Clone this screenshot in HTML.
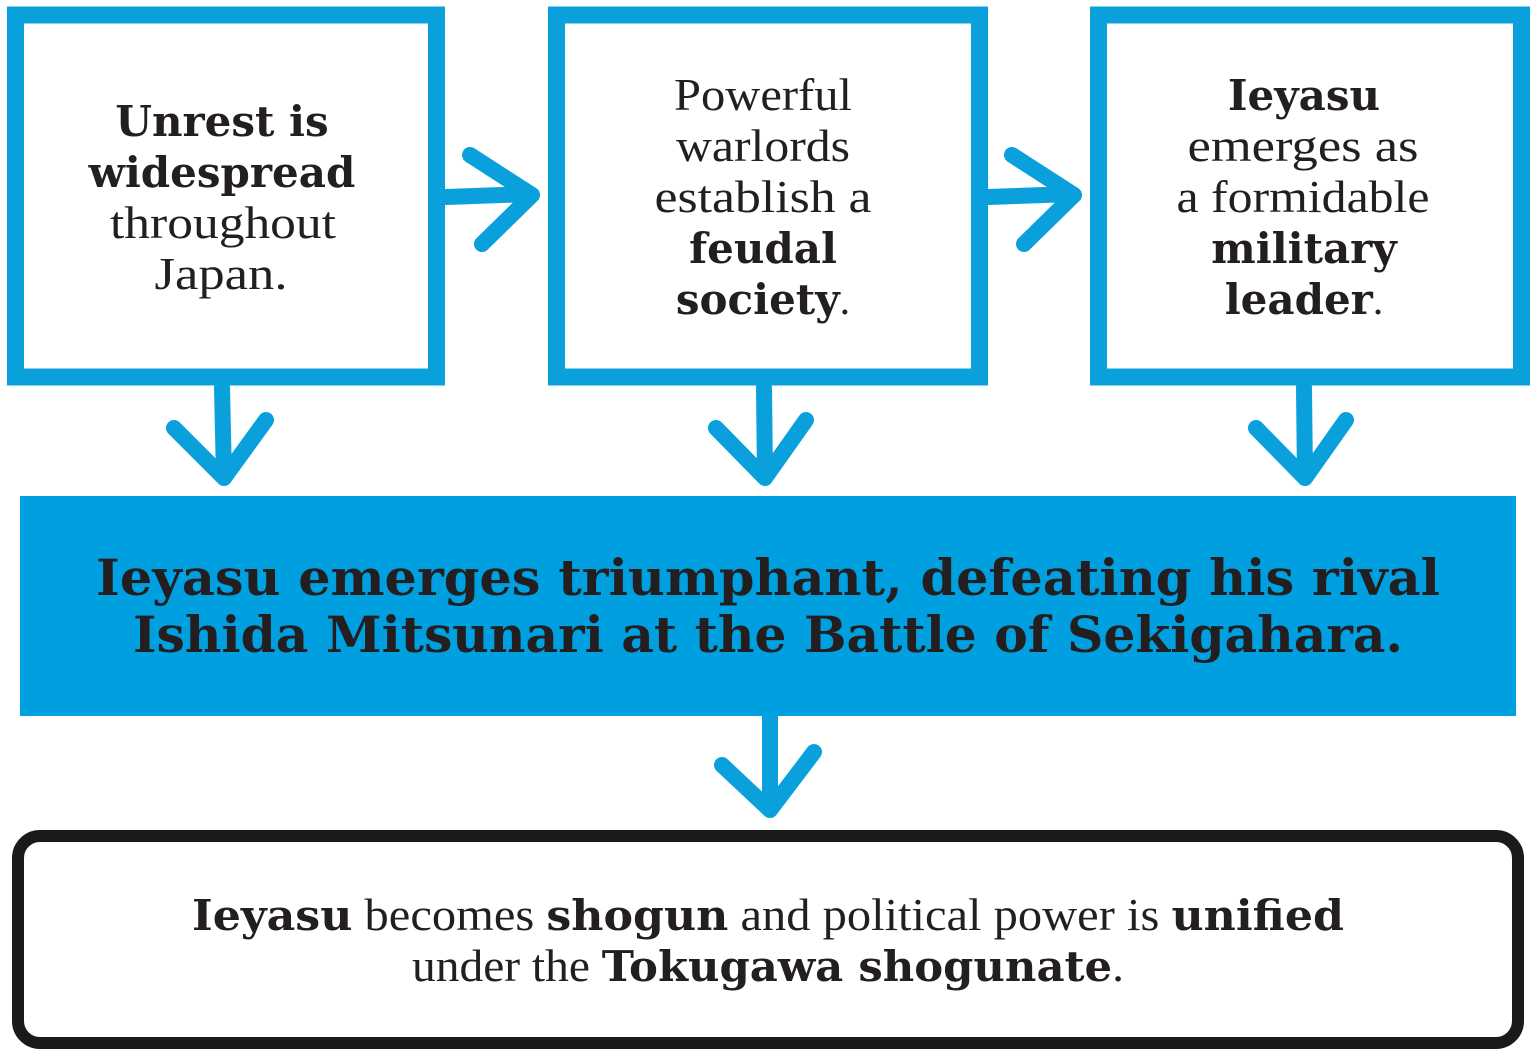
<!DOCTYPE html>
<html><head><meta charset="utf-8"><style>
html,body{margin:0;padding:0;background:#fff;}
svg{display:block;}
text{font-family:"DejaVu Serif","Liberation Serif",serif;}
.l{font-family:"Liberation Serif",serif;font-weight:normal;}
.b{font-family:"DejaVu Serif",serif;font-weight:bold;}
</style></head><body>
<svg width="1536" height="1058" viewBox="0 0 1536 1058" xmlns="http://www.w3.org/2000/svg">
<g fill="none" stroke="#0aa0dc" stroke-width="17">
<rect x="15.5" y="15" width="421" height="362"/>
<rect x="556.5" y="15" width="423" height="362"/>
<rect x="1098.5" y="15" width="423" height="362"/>
</g>
<g fill="none" stroke="#0aa0dc" stroke-width="16" stroke-linecap="round" stroke-linejoin="round">
<path d="M446 197 L530 194 M470 155 L532 195 L482 244"/>
<path d="M988 197 L1072 194 M1012 155 L1074 195 L1024 244"/>
<path d="M222 388 L224 478 M174 428 L224 478 L266 420"/>
<path d="M764 388 L765 478 M716 428 L765 478 L806 420"/>
<path d="M1304 388 L1305 478 M1256 428 L1305 478 L1346 420"/>
<path d="M770 716 L770 810 M722 765 L770 810 L814 752"/>
</g>
<rect x="20" y="496" width="1496" height="220" fill="#00a0e0"/>
<rect x="18" y="836" width="1500" height="207" rx="22" fill="none" stroke="#1a1a1a" stroke-width="12"/>
<g text-anchor="middle" fill="#231f20" font-size="42">
<text x="222" y="136" class="b">Unrest is</text>
<text x="222" y="187" class="b">widespread</text>
<text x="223" y="238" class="l" font-size="46" textLength="226" lengthAdjust="spacingAndGlyphs">throughout</text>
<text x="221" y="289" class="l" font-size="46" textLength="133" lengthAdjust="spacingAndGlyphs">Japan.</text>

<text x="763" y="110" class="l" font-size="46" textLength="178" lengthAdjust="spacingAndGlyphs">Powerful</text>
<text x="763" y="161" class="l" font-size="46" textLength="174" lengthAdjust="spacingAndGlyphs">warlords</text>
<text x="763" y="212" class="l" font-size="46" textLength="217" lengthAdjust="spacingAndGlyphs">establish a</text>
<text x="763" y="263" class="b">feudal</text>
<text x="763" y="314" class="b">society<tspan class="l">.</tspan></text>

<text x="1304" y="110" class="b">Ieyasu</text>
<text x="1303" y="161" class="l" font-size="46" textLength="231" lengthAdjust="spacingAndGlyphs">emerges as</text>
<text x="1303" y="212" class="l" font-size="46" textLength="253" lengthAdjust="spacingAndGlyphs">a formidable</text>
<text x="1304" y="263" class="b">military</text>
<text x="1304" y="314" class="b">leader<tspan class="l">.</tspan></text>

<text x="768" y="595" class="b" font-size="50" textLength="1344" lengthAdjust="spacingAndGlyphs">Ieyasu emerges triumphant, defeating his rival</text>
<text x="768" y="652" class="b" font-size="50" textLength="1270" lengthAdjust="spacingAndGlyphs">Ishida Mitsunari at the Battle of Sekigahara.</text>

<text x="768" y="930" font-size="42" textLength="1152" lengthAdjust="spacingAndGlyphs"><tspan class="b">Ieyasu</tspan><tspan class="l" font-size="46"> becomes </tspan><tspan class="b">shogun</tspan><tspan class="l" font-size="46"> and political power is </tspan><tspan class="b">unified</tspan></text>
<text x="768" y="981" font-size="42" textLength="712" lengthAdjust="spacingAndGlyphs"><tspan class="l" font-size="46">under the </tspan><tspan class="b">Tokugawa shogunate</tspan><tspan class="l" font-size="46">.</tspan></text>
</g>
</svg>
</body></html>
